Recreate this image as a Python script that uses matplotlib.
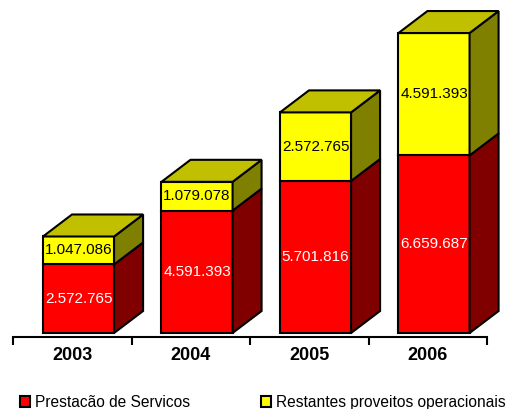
import matplotlib
matplotlib.use("Agg")
import matplotlib.pyplot as plt
from matplotlib.patches import Polygon, Rectangle

plt.rcParams['font.family'] = ['Liberation Sans', 'DejaVu Sans']

# data
years = ['2003', '2004', '2005', '2006']
servicos = [2572765, 4591393, 5701816, 6659687]
restantes = [1047086, 1079078, 2572765, 4591393]
labels_servicos = ['2.572.765', '4.591.393', '5.701.816', '6.659.687']
labels_restantes = ['1.047.086', '1.079.078', '2.572.765', '4.591.393']

W, H = 521, 409
fig = plt.figure(figsize=(W / 100, H / 100), dpi=100)
ax = fig.add_axes([13 / W, 72 / H, 474 / W, 337 / H])
ax.set_xlim(-0.5, 3.5)
ax.set_ylim(-0.15e6, 12.49e6)

# 3d depth in pixels, converted to data units
depth_px = (29, 22)
x_per_px = 4.0 / 474
y_per_px = (12.49e6 + 0.15e6) / 337
dx = depth_px[0] * x_per_px
dy = depth_px[1] * y_per_px

bar_w = 0.6
bar_off = -0.247


def draw_box(x0, y0, y1, front, side, top=None):
    x1 = x0 + bar_w
    kw = dict(edgecolor='black', lw=1.5, joinstyle='miter', zorder=3, clip_on=False)
    ax.add_patch(Rectangle((x0, y0), bar_w, y1 - y0, facecolor=front, **kw))
    ax.add_patch(Polygon([(x1, y0), (x1 + dx, y0 + dy), (x1 + dx, y1 + dy), (x1, y1)],
                         facecolor=side, **kw))
    if top is not None:
        ax.add_patch(Polygon([(x0, y1), (x0 + dx, y1 + dy), (x1 + dx, y1 + dy), (x1, y1)],
                             facecolor=top, **kw))


for i in range(len(years)):
    x0 = i + bar_off
    s = servicos[i]
    r = restantes[i]
    draw_box(x0, 0, s, '#ff0000', '#800000')
    draw_box(x0, s, s + r, '#ffff00', '#808000', top='#c0c000')
    ax.text(x0 + bar_w / 2, s / 2, labels_servicos[i], ha='center', va='center',
            color='white', fontsize=11, zorder=4)
    ax.text(x0 + bar_w / 2, s + r / 2, labels_restantes[i], ha='center', va='center',
            color='black', fontsize=11, zorder=4)

for sp in ['top', 'left', 'right']:
    ax.spines[sp].set_visible(False)
ax.spines['bottom'].set_linewidth(1.5)
ax.set_yticks([])
ax.set_xticks([-0.5, 0.5, 1.5, 2.5, 3.5])
ax.set_xticklabels([])
ax.tick_params(axis='x', which='major', length=6, width=1.5, direction='out')
ax.set_xticks(range(len(years)), minor=True)
ax.set_xticklabels(years, minor=True, fontsize=13, fontweight='bold')
ax.tick_params(axis='x', which='minor', length=0, pad=7)
ax.patch.set_visible(False)

handles = [Rectangle((0, 0), 1, 1, facecolor='#ff0000', edgecolor='black', lw=1.5),
           Rectangle((0, 0), 1, 1, facecolor='#ffff00', edgecolor='black', lw=1.5)]
fig.legend(handles, ['Prestacão de Servicos', 'Restantes proveitos operacionais'],
           loc='lower left', bbox_to_anchor=(20 / W, -1 / H), ncol=2, frameon=False,
           fontsize=11.2, handlelength=0.65, handleheight=0.65, handletextpad=0.3,
           columnspacing=4.6, borderpad=0, borderaxespad=0)

fig.savefig('out.png', dpi=100)
